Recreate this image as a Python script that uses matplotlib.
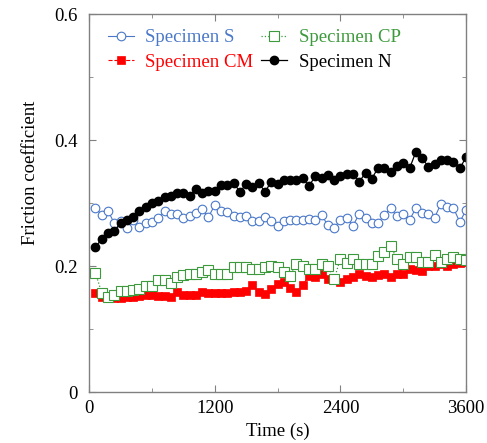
import numpy as np
import matplotlib
matplotlib.use("Agg")
import matplotlib.pyplot as plt
from matplotlib.ticker import MultipleLocator

time_s = list(range(60, 3601, 60))

spec_S = [.293, .281, .288, .268, .271, .261, .273, .262, .268, .270,
          .277, .288, .283, .283, .276, .279, .284, .290, .278, .297,
          .288, .286, .279, .278, .279, .272, .272, .278, .272, .264,
          .272, .273, .273, .273, .274, .273, .281, .265, .261, .273,
          .276, .264, .283, .277, .269, .269, .281, .292, .279, .283,
          .273, .292, .285, .283, .277, .299, .294, .292, .270, .289]

spec_CP = [.189, .158, .151, .154, .161, .161, .162, .164, .168, .168,
           .178, .178, .173, .182, .186, .188, .188, .191, .194, .188,
           .188, .188, .198, .198, .198, .195, .195, .198, .200, .198,
           .191, .184, .204, .200, .195, .195, .204, .200, .179, .212,
           .205, .211, .203, .203, .204, .216, .223, .232, .211, .203,
           .215, .215, .207, .207, .217, .207, .212, .214, .212, .210]

spec_CM = [.157, .151, .150, .150, .150, .151, .151, .152, .154, .154,
           .152, .152, .151, .159, .154, .154, .154, .159, .157, .157,
           .158, .158, .159, .159, .161, .170, .159, .156, .163, .172,
           .174, .166, .159, .170, .184, .183, .187, .180, .179, .174,
           .180, .182, .187, .184, .182, .186, .187, .183, .187, .188,
           .196, .194, .193, .200, .200, .204, .200, .204, .205, .207]

spec_N = [.230, .243, .253, .255, .268, .273, .278, .288, .294, .300,
          .304, .309, .312, .316, .316, .311, .323, .316, .320, .320,
          .329, .329, .332, .318, .330, .326, .332, .318, .334, .330,
          .337, .336, .337, .340, .327, .343, .340, .344, .336, .343,
          .347, .347, .334, .348, .339, .356, .356, .350, .359, .364,
          .355, .381, .371, .358, .362, .369, .369, .366, .355, .373]

labels = ["Specimen S", "Specimen CM", "Specimen CP", "Specimen N"]
c_blue = "#4a78c8"
c_green = "#3c9a3c"
c_red = "#ff0000"
c_black = "#000000"

plt.rcParams['font.family'] = ['Liberation Serif', 'DejaVu Serif']

fig = plt.figure(figsize=(4.87, 4.43), dpi=100)
ax = fig.add_axes([0.183, 0.115, 0.774, 0.853])

t = np.array(time_s)
l_s, = ax.plot(t, spec_S, '-', color=c_blue, lw=0.8, marker='o', ms=6.2,
               mfc='white', mec=c_blue, mew=0.8, label=labels[0])
l_cm, = ax.plot(t, spec_CM, '--', color=c_red, lw=0.8, marker='s', ms=6.3,
                mfc=c_red, mec=c_red, mew=0.5, label=labels[1])
l_cp, = ax.plot(t, spec_CP, ':', color=c_green, lw=0.9, marker='s', ms=6.5,
                mfc='white', mec=c_green, mew=0.8, label=labels[2])
l_n, = ax.plot(t, spec_N, '-', color=c_black, lw=0.9, marker='o', ms=6.0,
               mfc=c_black, mec=c_black, label=labels[3])

ax.set_xlim(0, 3600)
ax.set_ylim(0, 0.6)
ax.xaxis.set_minor_locator(MultipleLocator(600))
ax.yaxis.set_minor_locator(MultipleLocator(0.1))
ax.set_yticks([0, 0.2, 0.4, 0.6])
ax.set_yticklabels(["0", "0.2", "0.4", "0.6"])
ax.set_xticks([0, 1200, 2400, 3600])
ax.set_xticklabels(["0", "1200", "2400", "3600"])

for sp in ax.spines.values():
    sp.set_color("#808080")
    sp.set_linewidth(1.0)
ax.tick_params(which='both', direction='in', top=True, right=True,
               color="#808080", labelsize=13.5)
ax.tick_params(which='major', length=5)
ax.tick_params(which='minor', length=3)
ax.tick_params(axis='x', pad=6)
ax.tick_params(axis='y', pad=8)

ax.set_xlabel("Time (s)", fontsize=13.5, labelpad=4)
ax.set_ylabel("Friction coefficient", fontsize=13.5)
ax.yaxis.set_label_coords(-0.132, 0.58)

leg = ax.legend(handles=[l_s, l_cm, l_cp, l_n], ncol=2, loc='upper left',
                frameon=False, fontsize=13.5, handlelength=1.4,
                handletextpad=0.6, columnspacing=0.4, labelspacing=0.4,
                borderaxespad=0.0, bbox_to_anchor=(0.03, 0.98))
for txt, col in zip(leg.get_texts(), [c_blue, c_red, c_green, c_black]):
    txt.set_color(col)

fig.savefig("out.png", dpi=100)
